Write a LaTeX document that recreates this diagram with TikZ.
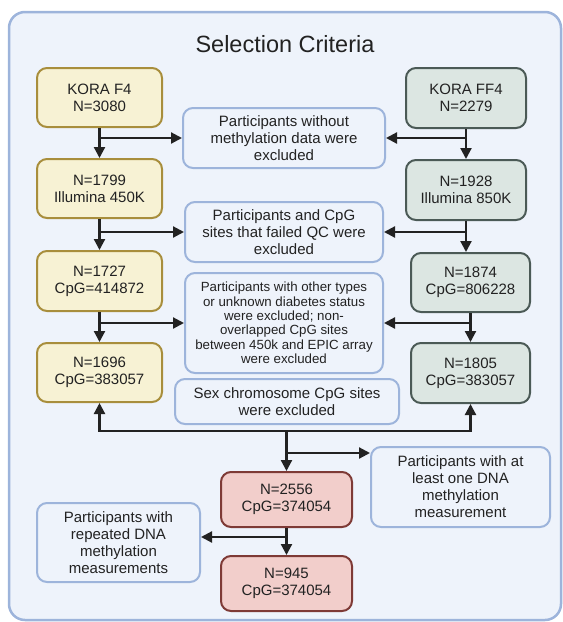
\documentclass[tikz,border=0pt]{standalone}
\usepackage{fontspec}
\setmainfont{Liberation Sans}
\usetikzlibrary{arrows.meta,calc}
\definecolor{bgfill}{HTML}{EEF3FB}
\definecolor{bgline}{HTML}{9DB4DB}
\definecolor{yfill}{HTML}{F7F2D4}
\definecolor{yline}{HTML}{A88E3C}
\definecolor{gfill}{HTML}{DCE6E2}
\definecolor{gline}{HTML}{4B5A56}
\definecolor{rfill}{HTML}{F2CECB}
\definecolor{rline}{HTML}{7E3A36}
\definecolor{txt}{HTML}{222222}
\definecolor{arrc}{HTML}{222222}
\begin{document}
\begin{tikzpicture}[x=1pt,y=-1pt,
 box/.style={draw, line width=2pt, rounded corners=10pt, align=center, inner sep=0pt, text=txt, font=\fontsize{15}{17}\selectfont},
 ybox/.style={box, fill=yfill, draw=yline, minimum width=125pt, minimum height=59pt},
 gbox/.style={box, fill=gfill, draw=gline, minimum width=120pt, minimum height=60pt},
 rbox/.style={box, fill=rfill, draw=rline, minimum width=131pt, minimum height=55pt},
 ebox/.style={box, fill=bgfill, draw=bgline},
 arr/.style={draw=arrc, line width=2.2pt, -{Triangle[length=11pt,width=11pt]}},
 dblarr/.style={draw=arrc, line width=2.2pt, {Triangle[length=11pt,width=11pt]}-{Triangle[length=11pt,width=11pt]}},
]
\useasboundingbox (0,0) rectangle (563,622);
\draw[fill=bgfill, draw=bgline, line width=2.5pt, rounded corners=16pt] (9,12) rectangle (561,620);
\node[anchor=base, text=txt, font=\fontsize{23.5}{26}\selectfont] (title) at (285,52) {Selection Criteria};

% left column
\node[ybox] (f4a) at (99.5,97.5) {KORA F4\\N=3080};
\node[ybox] (f4b) at (99.5,188.5) {N=1799\\Illumina 450K};
\node[ybox, minimum height=60pt] (f4c) at (99.5,281) {N=1727\\CpG=414872};
\node[ybox] (f4d) at (99.5,372.5) {N=1696\\CpG=383057};

% right column
\node[gbox] (ff4a) at (466,98) {KORA FF4\\N=2279};
\node[gbox] (ff4b) at (466,190) {N=1928\\Illumina 850K};
\node[gbox, minimum width=119pt, minimum height=59pt] (ff4c) at (470.5,282.5) {N=1874\\CpG=806228};
\node[gbox, minimum width=119pt] (ff4d) at (470.5,373) {N=1805\\CpG=383057};

% exclusion boxes
\node[ebox, minimum width=202pt, minimum height=60pt] (e1) at (284,138) {Participants without\\methylation data were\\excluded};
\node[ebox, minimum width=198pt, minimum height=60pt] (e2) at (284,232) {Participants and CpG\\sites that failed QC were\\excluded};
\node[ebox, minimum width=198pt, minimum height=100pt, font=\fontsize{13.3}{14.4}\selectfont] (e3) at (284,323) {Participants with other types\\or unknown diabetes status\\were excluded; non-\\overlapped CpG sites\\between 450k and EPIC array\\were excluded};
\node[ebox, minimum width=224pt, minimum height=45pt] (e4) at (287,401.5) {Sex chromosome CpG sites\\were excluded};

% merged
\node[rbox] (m1) at (286.5,499.5) {N=2556\\CpG=374054};
\node[rbox] (m2) at (286.5,583.5) {N=945\\CpG=374054};
\node[ebox, minimum width=179pt, minimum height=80pt] (r1) at (460.5,487) {Participants with at\\least one DNA\\methylation\\measurement};
\node[ebox, minimum width=163pt, minimum height=79pt] (l1) at (118.5,542.5) {Participants with\\repeated DNA\\methylation\\measurements};

% left column arrows
\draw[arr] (f4a.south) -- (f4a.south |- f4b.north);
\draw[arr] (f4a.south |- e1.west) -- (e1.west);
\draw[arr] (f4b.south) -- (f4b.south |- f4c.north);
\draw[arr] (f4b.south |- e2.west) -- (e2.west);
\draw[arr] (f4c.south) -- (f4c.south |- f4d.north);
\draw[arr] (f4c.south |- e3.west) -- (e3.west);

% right column arrows
\draw[arr] (ff4a.south) -- (ff4a.south |- ff4b.north);
\draw[arr] (ff4a.south |- e1.east) -- (e1.east);
\draw[arr] (ff4b.south) -- (ff4b.south |- ff4c.north);
\draw[arr] (ff4b.south |- e2.east) -- (e2.east);
\draw[arr] (ff4c.south) -- (ff4c.south |- ff4d.north);
\draw[arr] (ff4c.south |- e3.east) -- (e3.east);

% bottom merge
\coordinate (j) at (286.5,431);
\draw[dblarr] (f4d.south) -- (f4d.south |- j) -- (ff4d.south |- j) -- (ff4d.south);
\draw[arr] (j) -- (j |- m1.north);
\coordinate (b1) at (286.5,453);
\draw[arr] (b1) -- (b1 -| r1.west);
\draw[arr] (m1.south) -- (m2.north);
\coordinate (b2) at (286.5,537);
\draw[arr] (b2) -- (b2 -| l1.east);
\end{tikzpicture}
\end{document}
